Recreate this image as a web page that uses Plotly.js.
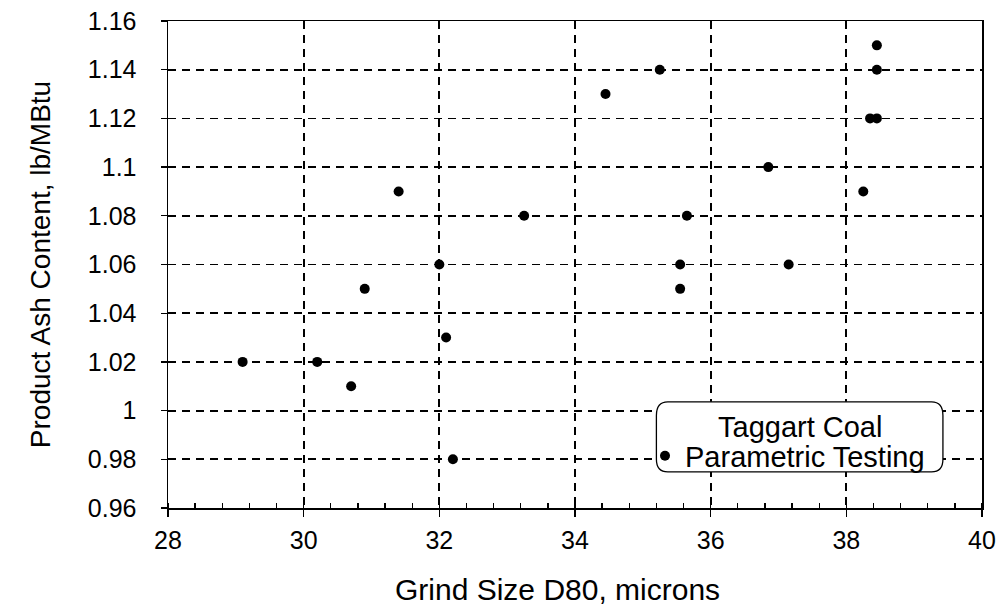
<!DOCTYPE html>
<html>
<head>
<meta charset="utf-8">
<script src="https://cdn.plot.ly/plotly-3.0.1.min.js"></script>
<style>html,body{margin:0;padding:0;background:#fff;}#chart{width:996px;height:606px;}</style>
</head>
<body>
<div id="chart"></div>
<script>
// Grind size D80 (microns)
const grindSize = [29.1, 30.2, 30.7, 30.9, 31.4, 32.0, 32.1, 32.2, 33.25, 34.45, 35.25, 35.55, 35.55, 35.65, 36.85, 37.15, 38.25, 38.35, 38.45, 38.45, 38.45];
// Product ash content (lb/MBtu)
const ashContent = [1.02, 1.02, 1.01, 1.05, 1.09, 1.06, 1.03, 0.98, 1.08, 1.13, 1.14, 1.06, 1.05, 1.08, 1.10, 1.06, 1.09, 1.12, 1.12, 1.14, 1.15];
const seriesName = "Parametric Testing";
const legendTitle = "Taggart Coal";
const xTitle = "Grind Size D80, microns";
const yTitle = "Product Ash Content, lb/MBtu";
const xTicks = [28, 30, 32, 34, 36, 38, 40];
const yTicks = [0.96, 0.98, 1.00, 1.02, 1.04, 1.06, 1.08, 1.10, 1.12, 1.14, 1.16];
const yTickLabels = ["0.96", "0.98", "1", "1.02", "1.04", "1.06", "1.08", "1.1", "1.12", "1.14", "1.16"];

const font = "Liberation Sans, Arial, sans-serif";

const trace = {
  x: grindSize, y: ashContent, type: "scatter", mode: "markers", name: seriesName,
  marker: {color: "#000", size: 10}
};

const layout = {
  width: 996, height: 606,
  margin: {l: 168, r: 14, t: 21, b: 98},
  paper_bgcolor: "#fff", plot_bgcolor: "#fff",
  font: {family: font, color: "#000", size: 24},
  showlegend: true,
  legend: {
    x: 0.586, y: 0.107, xanchor: "left", yanchor: "middle",
    bgcolor: "rgba(0,0,0,0)", borderwidth: 0,
    font: {size: 29, family: font},
    itemwidth: 30, tracegroupgap: 0
  },
  xaxis: {
    range: [28, 40], tickmode: "array", tickvals: xTicks, ticktext: xTicks.map(String),
    showgrid: true, gridcolor: "#000", griddash: "8px,6px", gridwidth: 1.8,
    zeroline: false, showline: true, linecolor: "#000", linewidth: 1.5, mirror: true,
    ticks: "outside", ticklen: 7, tickcolor: "#000", tickwidth: 1.3,
    minor: {dtick: 0.4, ticks: "inside", ticklen: 5, tickcolor: "#000", showgrid: false},
    tickfont: {size: 25, family: font}, ticklabelstandoff: 2
  },
  yaxis: {
    range: [0.96, 1.16], tickmode: "array", tickvals: yTicks, ticktext: yTickLabels,
    showgrid: true, gridcolor: "#000", griddash: "8px,6px", gridwidth: 1.8,
    zeroline: false, showline: true, linecolor: "#000", linewidth: 1.5, mirror: true,
    ticks: "outside", ticklen: 6, tickcolor: "#000", tickwidth: 1.3,
    tickfont: {size: 25, family: font}, ticklabelstandoff: 19,
    title: {text: yTitle, font: {size: 28, family: font}, standoff: 29}
  },
  annotations: [
    {text: xTitle, xref: "paper", yref: "paper", x: 0.479, y: -0.168,
     xanchor: "center", yanchor: "middle", showarrow: false, font: {size: 30, family: font}},
    {text: legendTitle, xref: "paper", yref: "paper", x: 0.776, y: 0.166,
     xanchor: "center", yanchor: "middle", showarrow: false, font: {size: 29, family: font}}
  ],
  shapes: [{
    type: "path", xref: "paper", yref: "paper", layer: "above",
    path: "M 0.614 0.218 L 0.938 0.218 Q 0.952 0.218 0.952 0.19 L 0.952 0.1 Q 0.952 0.074 0.938 0.074 L 0.614 0.074 Q 0.6 0.074 0.6 0.1 L 0.6 0.19 Q 0.6 0.218 0.614 0.218 Z",
    fillcolor: "#fff", line: {color: "#000", width: 1.3}
  }]
};

Plotly.newPlot("chart", [trace], layout, {displayModeBar: false, staticPlot: true});
</script>
</body>
</html>
